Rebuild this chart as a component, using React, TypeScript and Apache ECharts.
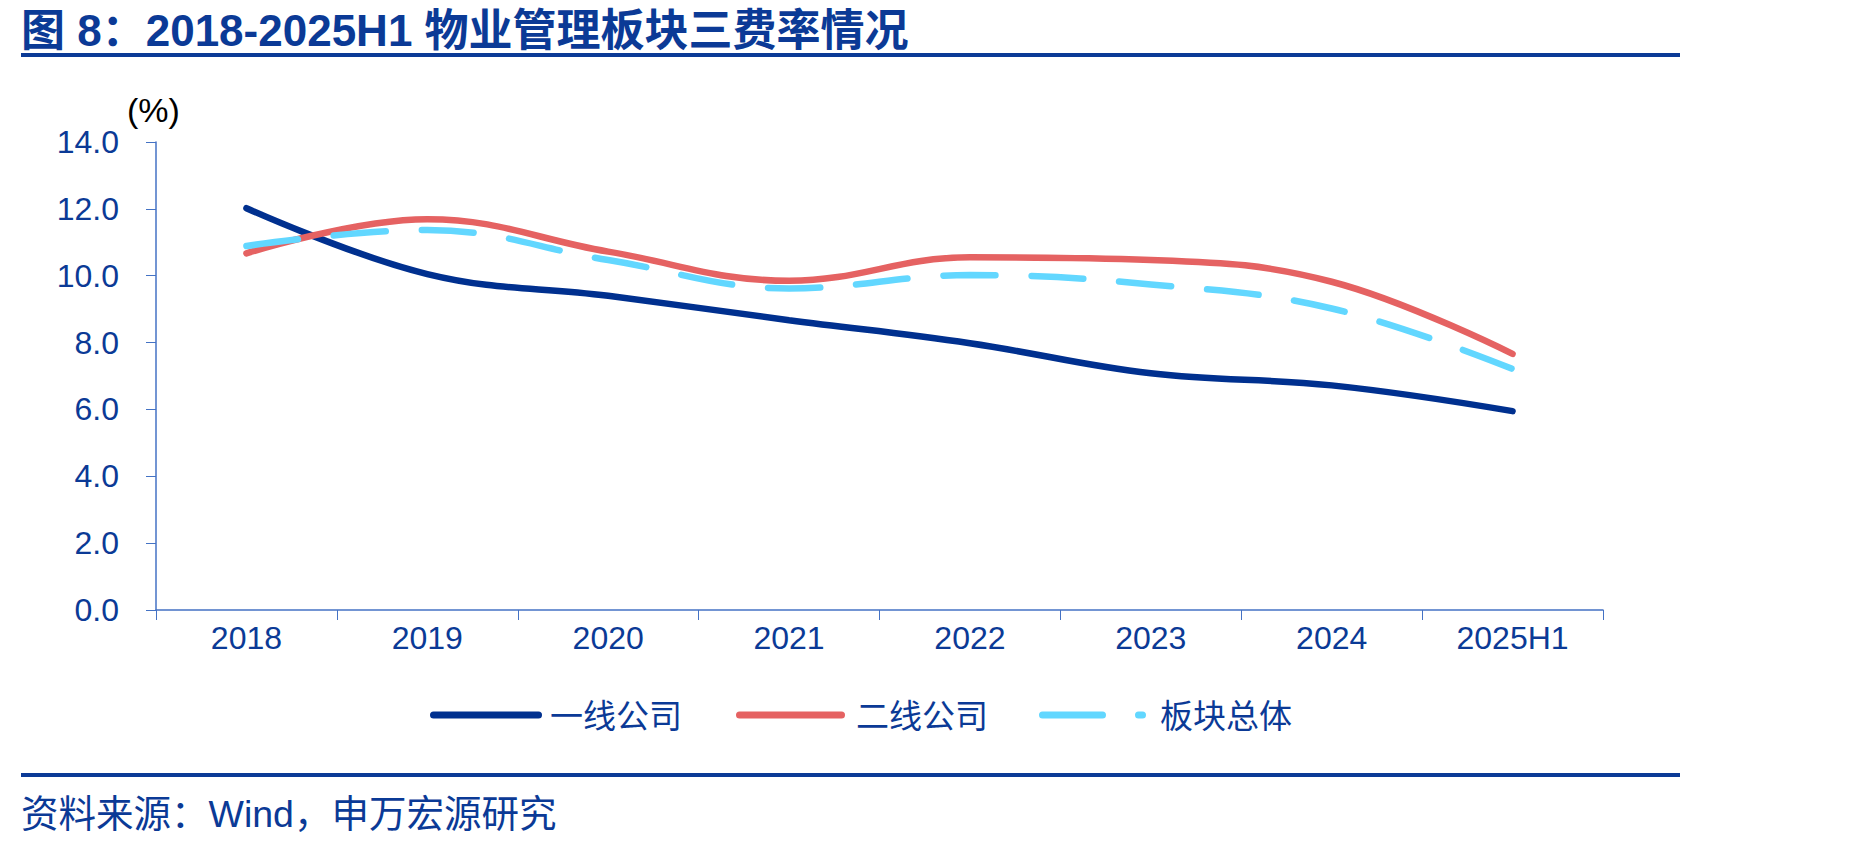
import React, { useEffect, useRef } from "react";
import * as echarts from "echarts";

const categories = ["2018", "2019", "2020", "2021", "2022", "2023", "2024", "2025H1"];
const tier1 = [12.02, 10.05, 9.4, 8.67, 7.98, 7.08, 6.72, 5.95];
const tier2 = [10.67, 11.69, 10.72, 9.85, 10.55, 10.47, 9.82, 7.66];
const sector = [10.89, 11.37, 10.47, 9.62, 10.02, 9.74, 9.02, 7.21];
const seriesNames = ["一线公司", "二线公司", "板块总体"];
const yTicks = { min: 0, max: 14, interval: 2 };

const FONT = "'Liberation Sans', 'Noto Sans CJK SC', sans-serif";
const NAVY = "#0B3A96";
const LINE_NAVY = "#00308F";
const RED = "#E56262";
const CYAN = "#62D7FF";
const AXIS = "#4472C4";
const LINE_COLORS = [LINE_NAVY, RED, CYAN];

// legend layout (positions only)
const legendLines = [
  [433.5, 538.5],
  [739.5, 841.5],
  [1042.5, 1142.5],
];
const legendTextX = [550, 856, 1160];
const LEGEND_Y = 715;

export default function App() {
  const ref = useRef<HTMLDivElement>(null);
  useEffect(() => {
    if (!ref.current) return;
    const chart = echarts.init(ref.current, undefined, { renderer: "svg" });
    const legendGraphics: any[] = [];
    seriesNames.forEach((name, i) => {
      legendGraphics.push({
        type: "line",
        shape: { x1: legendLines[i][0], y1: LEGEND_Y, x2: legendLines[i][1], y2: LEGEND_Y },
        style: {
          stroke: LINE_COLORS[i],
          lineWidth: 7,
          lineCap: "round",
          lineDash: i === 2 ? [60, 36] : null,
        },
      });
      legendGraphics.push({
        type: "text",
        x: legendTextX[i],
        y: LEGEND_Y + 1,
        style: {
          text: name,
          font: `33px ${FONT}`,
          fill: NAVY,
          textVerticalAlign: "middle",
        },
      });
    });
    chart.setOption({
      animation: false,
      backgroundColor: "#ffffff",
      textStyle: { fontFamily: FONT },
      title: {
        text: "图 8：2018-2025H1 物业管理板块三费率情况",
        left: 16,
        top: 3,
        textStyle: { fontFamily: FONT, fontSize: 44, fontWeight: "bold", color: NAVY },
      },
      graphic: [
        { type: "rect", shape: { x: 21, y: 53, width: 1659, height: 4 }, style: { fill: NAVY } },
        { type: "rect", shape: { x: 21, y: 773, width: 1659, height: 4 }, style: { fill: NAVY } },
        {
          type: "text",
          x: 21,
          y: 814,
          style: {
            text: "资料来源：Wind，申万宏源研究",
            font: `37.5px ${FONT}`,
            fill: NAVY,
            textVerticalAlign: "middle",
          },
        },
        {
          type: "text",
          x: 127,
          y: 110,
          style: { text: "(%)", font: `34px ${FONT}`, fill: "#000000", textVerticalAlign: "middle" },
        },
        ...legendGraphics,
      ],
      grid: { left: 156, right: 246, top: 142, bottom: 240, containLabel: false },
      xAxis: {
        type: "category",
        data: categories,
        boundaryGap: true,
        axisLine: { lineStyle: { color: AXIS, width: 1.5 } },
        axisTick: { show: true, length: 10, alignWithLabel: false, lineStyle: { color: AXIS } },
        axisLabel: { color: NAVY, fontSize: 32, fontFamily: FONT, margin: 12 },
        splitLine: { show: false },
      },
      yAxis: {
        type: "value",
        min: yTicks.min,
        max: yTicks.max,
        interval: yTicks.interval,
        axisLine: { show: true, lineStyle: { color: AXIS, width: 1.5 } },
        axisTick: { show: true, length: 10, lineStyle: { color: AXIS } },
        axisLabel: {
          color: NAVY,
          fontSize: 32,
          fontFamily: FONT,
          margin: 37,
          formatter: (v: number) => v.toFixed(1),
        },
        splitLine: { show: false },
      },
      series: [
        {
          name: seriesNames[0],
          type: "line",
          data: tier1,
          smooth: 0.4,
          symbol: "none",
          lineStyle: { color: LINE_NAVY, width: 6.5, cap: "round" },
          itemStyle: { color: LINE_NAVY },
        },
        {
          name: seriesNames[1],
          type: "line",
          data: tier2,
          smooth: 0.4,
          symbol: "none",
          lineStyle: { color: RED, width: 6.5, cap: "round" },
          itemStyle: { color: RED },
        },
        {
          name: seriesNames[2],
          type: "line",
          data: sector,
          smooth: 0.4,
          symbol: "none",
          lineStyle: { color: CYAN, width: 6.5, cap: "round", type: [52, 36] },
          itemStyle: { color: CYAN },
        },
      ],
    });
    return () => chart.dispose();
  }, []);
  return (
    <div
      ref={ref}
      style={{ position: "fixed", left: 0, top: 0, width: 1849, height: 850, background: "#fff" }}
    />
  );
}
